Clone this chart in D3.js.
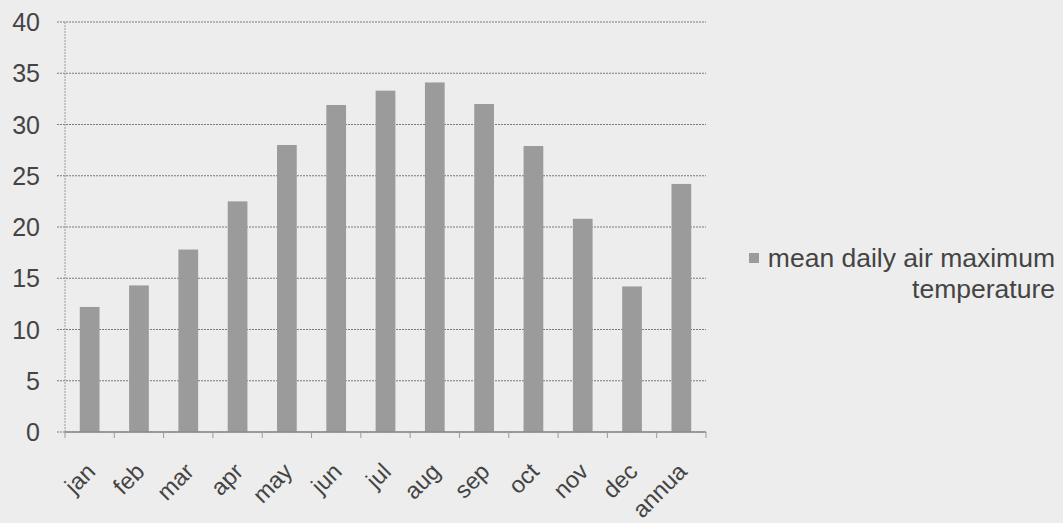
<!DOCTYPE html>
<html>
<head>
<meta charset="utf-8">
<script src="https://cdn.jsdelivr.net/npm/d3@7"></script>
<style>
  body { margin: 0; background: #ededed; }
  svg { display: block; font-family: "Liberation Sans", Arial, sans-serif; }
</style>
</head>
<body>
<svg id="chart"></svg>
<script>
// chart data
const months = ["jan", "feb", "mar", "apr", "may", "jun", "jul", "aug", "sep", "oct", "nov", "dec", "annua"];
const maxTemp = [12.2, 14.3, 17.8, 22.5, 28, 31.9, 33.3, 34.1, 32, 27.9, 20.8, 14.2, 24.2];
const yTicks = [0, 5, 10, 15, 20, 25, 30, 35, 40];
const seriesName = ["mean daily air maximum", "temperature"];

const width = 1063;
const height = 523;
const margin = { top: 22, left: 65, right: 357, bottom: 91 };

const svg = d3.select("#chart").attr("width", width).attr("height", height);

svg.append("rect").attr("width", width).attr("height", height).attr("fill", "#ededed");

// scales
const x = d3.scaleBand()
	.domain(months)
	.range([margin.left, width - margin.right])
	.paddingInner(0.6)
	.paddingOuter(0.3);

const y = d3.scaleLinear().domain([0, 40]).range([height - margin.bottom, margin.top]);

// gridlines
svg.append("g")
	.selectAll("line")
	.data(yTicks)
	.enter()
	.append("line")
	.attr("x1", margin.left - 8)
	.attr("x2", width - margin.right)
	.attr("y1", (d) => y(d))
	.attr("y2", (d) => y(d))
	.attr("stroke", "#7a7a7a")
	.attr("stroke-width", 1.2)
	.attr("stroke-dasharray", "2,1");

// y axis line
svg.append("line")
	.attr("x1", margin.left).attr("x2", margin.left)
	.attr("y1", y(40)).attr("y2", y(0))
	.attr("stroke", "#9a9a9a")
	.attr("stroke-dasharray", "2,1");

// y tick labels
svg.append("g")
	.selectAll("text")
	.data(yTicks)
	.enter()
	.append("text")
	.attr("x", 40)
	.attr("y", (d) => y(d))
	.attr("dy", "0.36em")
	.attr("text-anchor", "end")
	.attr("font-size", "25px")
	.attr("fill", "#444")
	.text((d) => d);

// bars
svg.append("g")
	.selectAll("rect")
	.data(months)
	.enter()
	.append("rect")
	.attr("x", (d) => x(d))
	.attr("y", (d, i) => y(maxTemp[i]))
	.attr("width", x.bandwidth())
	.attr("height", (d, i) => y(0) - y(maxTemp[i]))
	.attr("fill", "#9b9b9b");

// x axis with boundary ticks
const step = x.step();
const x0 = margin.left;
svg.append("line")
	.attr("x1", x0).attr("x2", width - margin.right)
	.attr("y1", y(0)).attr("y2", y(0))
	.attr("stroke", "#8a8a8a")
	.attr("stroke-width", 1.5);

svg.append("g")
	.selectAll("line")
	.data(d3.range(months.length + 1))
	.enter()
	.append("line")
	.attr("x1", (d) => x0 + d * step)
	.attr("x2", (d) => x0 + d * step)
	.attr("y1", y(0))
	.attr("y2", y(0) + 6)
	.attr("stroke", "#9a9a9a");

// rotated month labels
svg.append("g")
	.selectAll("text")
	.data(months)
	.enter()
	.append("text")
	.attr("transform", (d) => `translate(${x(d) + x.bandwidth() / 2 + 7},${y(0) + 41}) rotate(-45)`)
	.attr("text-anchor", "end")
	.attr("font-size", "23.5px")
	.attr("fill", "#444")
	.text((d) => d);

// legend
const legend = svg.append("g");
legend.append("rect")
	.attr("x", 749).attr("y", 253)
	.attr("width", 10).attr("height", 10)
	.attr("fill", "#9b9b9b");

legend.selectAll("text")
	.data(seriesName)
	.enter()
	.append("text")
	.attr("x", 1055)
	.attr("y", (d, i) => 267 + i * 31)
	.attr("text-anchor", "end")
	.attr("font-size", "26.5px")
	.attr("fill", "#444")
	.text((d) => d);
</script>
</body>
</html>
